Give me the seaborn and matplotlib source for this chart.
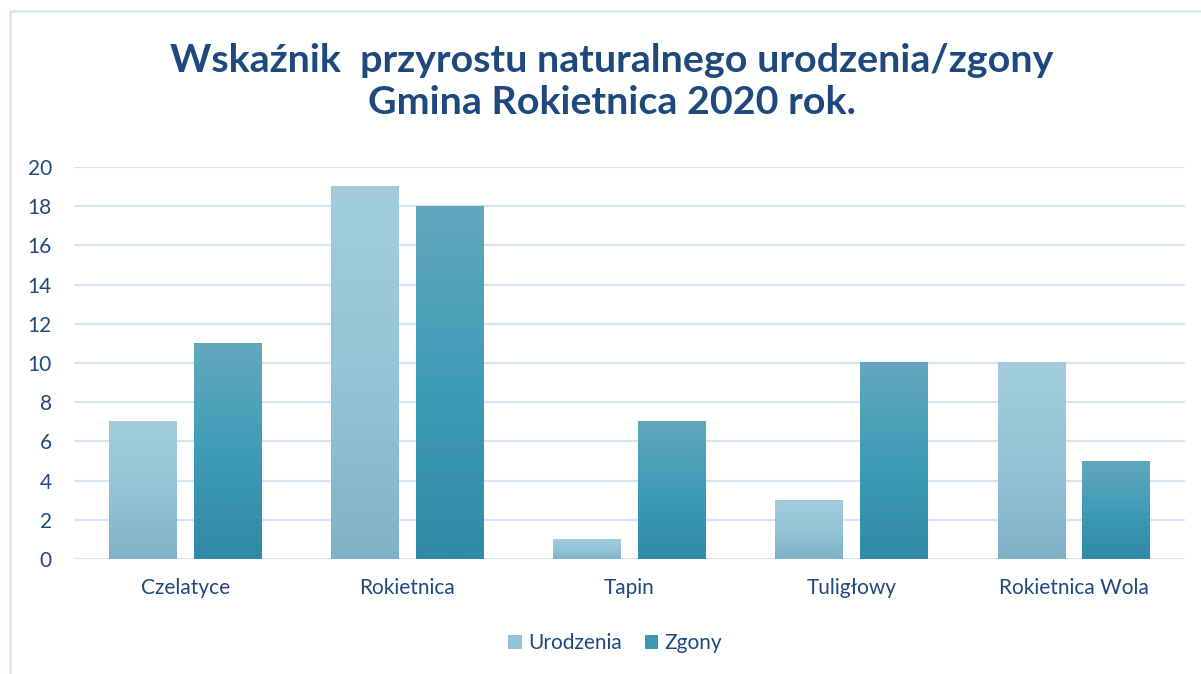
"""Wskaźnik przyrostu naturalnego — Gmina Rokietnica 2020, grouped bars with gradient fill."""
import numpy as np
import pandas as pd
import matplotlib.pyplot as plt
import seaborn as sns
from matplotlib.colors import LinearSegmentedColormap
from matplotlib.patches import Rectangle, Patch

categories = ['Czelatyce', 'Rokietnica', 'Tapin', 'Tuligłowy', 'Rokietnica Wola']
urodzenia = [7, 19, 1, 3, 10]
zgony = [11, 18, 7, 10, 5]
series = ['Urodzenia', 'Zgony']
yticks = list(range(0, 21, 2))

title_1 = 'Wskaźnik  przyrostu naturalnego urodzenia/zgony'
title_2 = 'Gmina Rokietnica 2020 rok.'

df = pd.DataFrame({
    'Gmina': categories * 2,
    'Seria': [series[0]] * len(categories) + [series[1]] * len(categories),
    'Liczba': urodzenia + zgony,
})

# gradient (bottom -> top) for each series
GRAD = {
    'Urodzenia': ['#7fb2c8', '#94c4d7', '#a3cddd'],
    'Zgony': ['#2e8aa5', '#3f9cb8', '#62a7bd'],
}
SOLID = {'Urodzenia': '#93c3d6', 'Zgony': '#3e98b3'}
TXT = '#1f497d'
GRID = '#d8e4f4'

sns.set_theme(style='white')
plt.rcParams['font.family'] = ['Lato', 'DejaVu Sans']

W, H = 1201, 674
fig = plt.figure(figsize=(W / 100, H / 100), dpi=100)
ax = fig.add_axes([74 / W, 1 - 559 / H, 1111 / W, 392 / H])

sns.barplot(data=df, x='Gmina', y='Liczba', hue='Seria', order=categories,
            hue_order=series, palette=SOLID, width=0.764, gap=0.2,
            legend=False, ax=ax, zorder=3)

# replace flat fill with vertical gradient per bar
grad = np.linspace(0, 1, 256).reshape(-1, 1)
for name, cont in zip(series, ax.containers):
    cmap = LinearSegmentedColormap.from_list(name, GRAD[name])
    for bar in cont:
        x0, w, h = bar.get_x(), bar.get_width(), bar.get_height()
        bar.set_facecolor('none')
        bar.set_edgecolor('none')
        ax.imshow(grad, extent=[x0, x0 + w, 0, h], origin='lower',
                  aspect='auto', cmap=cmap, zorder=3, interpolation='bilinear')

ax.set_xlim(-0.5, len(categories) - 0.5)
ax.set_ylim(0, 20)
ax.set_yticks(yticks)
ax.yaxis.grid(True, color=GRID, lw=1.6)
ax.set_axisbelow(True)
for s in ax.spines.values():
    s.set_visible(False)
ax.set_xlabel('')
ax.set_ylabel('')
ax.tick_params(axis='both', length=0, labelsize=15, labelcolor=TXT)
ax.tick_params(axis='x', pad=14)
ax.tick_params(axis='y', pad=16)

fig.text(612 / W, 1 - 60 / H, title_1, ha='center', va='center',
         fontsize=28.4, fontweight='bold', color=TXT)
fig.text(612 / W, 1 - 103 / H, title_2, ha='center', va='center',
         fontsize=28.4, fontweight='bold', color=TXT)

handles = [Patch(facecolor=SOLID[s], edgecolor='none', label=s) for s in series]
fig.legend(handles=handles, loc='center', bbox_to_anchor=(615 / W, 1 - 643 / H),
           ncol=2, frameon=False, fontsize=15, handlelength=0.65,
           handleheight=0.65, handletextpad=0.3, columnspacing=1.1,
           labelcolor=TXT)

# chart-area frame (left and top edges visible)
fig.add_artist(Rectangle((10 / W, -0.1), 1.2, 1 - 11 / H + 0.1,
                         transform=fig.transFigure, fill=False,
                         edgecolor='#d5e3f5', lw=1.8))

fig.savefig('out.png', dpi=100)
